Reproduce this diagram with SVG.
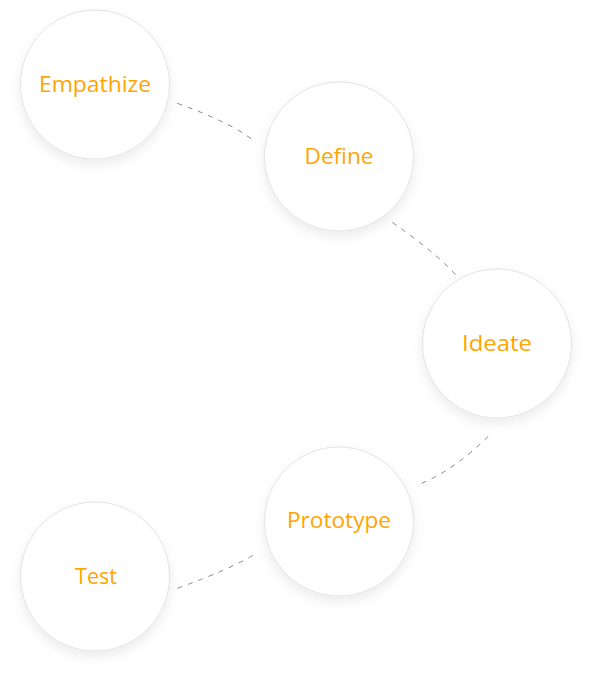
<svg xmlns="http://www.w3.org/2000/svg" width="592" height="682" viewBox="0 0 592 682">
<defs>
<filter id="sh" x="-30%" y="-30%" width="160%" height="170%">
<feDropShadow dx="0" dy="5" stdDeviation="6" flood-color="#000" flood-opacity="0.08"/>
</filter>
<style>
.node circle{fill:#fff;stroke:#e2e2e2;stroke-width:1;filter:url(#sh)}
.node text{font-family:"Open Sans","DejaVu Sans",sans-serif;font-size:21px;fill:#ffa500;text-anchor:middle}
.edge{fill:none;stroke:#888;stroke-width:1;stroke-dasharray:5 6}
</style>
</defs>
<rect width="592" height="682" fill="#fff"/>
<g id="connectors">
<path class="edge" d="M177.3,103.3 Q232,123 254,141"/>
<path class="edge" d="M392.3,222.3 Q443,258 458.3,278.3"/>
<path class="edge" d="M421.7,483.3 Q456,469 490.5,434"/>
<path class="edge" d="M177.3,588.3 Q231,569 256,553.5"/>
</g>
<g id="empathize" class="node">
<circle cx="95" cy="84.5" r="74.5"/>
<text x="95" y="92" textLength="112" lengthAdjust="spacingAndGlyphs">Empathize</text>
</g>
<g id="define" class="node">
<circle cx="339" cy="156.5" r="74.5"/>
<text x="339" y="164" textLength="69" lengthAdjust="spacingAndGlyphs">Define</text>
</g>
<g id="ideate" class="node">
<circle cx="497" cy="343.5" r="74.5"/>
<text x="497" y="351" textLength="70" lengthAdjust="spacingAndGlyphs">Ideate</text>
</g>
<g id="prototype" class="node">
<circle cx="339" cy="521.5" r="74.5"/>
<text x="339" y="528" textLength="104" lengthAdjust="spacingAndGlyphs">Prototype</text>
</g>
<g id="test" class="node">
<circle cx="95" cy="576.5" r="74.5"/>
<text x="96" y="583.5" textLength="42" lengthAdjust="spacingAndGlyphs">Test</text>
</g>
</svg>
